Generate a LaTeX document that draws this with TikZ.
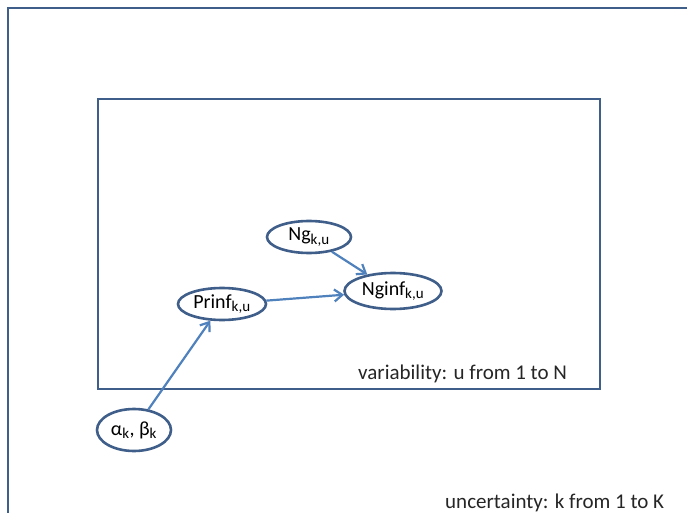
\documentclass[tikz,border=0pt]{standalone}
\usepackage{fontspec}
\setmainfont{Carlito}
\usetikzlibrary{shapes.geometric,arrows.meta}
\definecolor{boxc}{HTML}{3F5F8A}
\definecolor{arrc}{HTML}{4F81BD}
\tikzset{
  frame/.style={draw=boxc, line width=2.6pt},
  var/.style={ellipse, draw=boxc, line width=2.6pt, inner sep=0pt, fill=white, font=\fontsize{20}{22}\selectfont},
  link/.style={draw=arrc, line width=2.2pt, -{Straight Barb[length=8pt,width=12pt]}},
  lab/.style={font=\fontsize{21}{23}\selectfont, text=black!85, anchor=base west, inner sep=0pt}
}
\newcommand{\sbs}[1]{\textsubscript{\fontsize{15}{16}\selectfont #1}}
\begin{document}
\begin{tikzpicture}[x=1pt,y=-1pt]
\useasboundingbox (0,0) rectangle (687,513);
\fill[white] (0,0) rectangle (687,513);
\draw[frame] (8,530) -- (8,8) -- (700,8);
\draw[frame] (98,99) rectangle (600,389);
\node[var, minimum width=84pt, minimum height=32pt] (ng) at (309,237) {Ng\sbs{k,u}};
\node[var, minimum width=97pt, minimum height=36pt] (nginf) at (393,291) {Nginf\sbs{k,u}};
\node[var, minimum width=88pt, minimum height=32pt] (prinf) at (222,304) {Prinf\sbs{k,u}};
\node[var, minimum width=74pt, minimum height=42pt] (ab) at (134,430) {α\sbs{k}, β\sbs{k}};
\draw[link] (ab) -- (prinf);
\draw[link] (prinf) -- (nginf);
\draw[link] (ng) -- (nginf);
\node[lab] (vl) at (358,379) {variability: u from 1 to N};
\node[lab] (ul) at (445,508) {uncertainty: k from 1 to K};
\end{tikzpicture}
\end{document}
